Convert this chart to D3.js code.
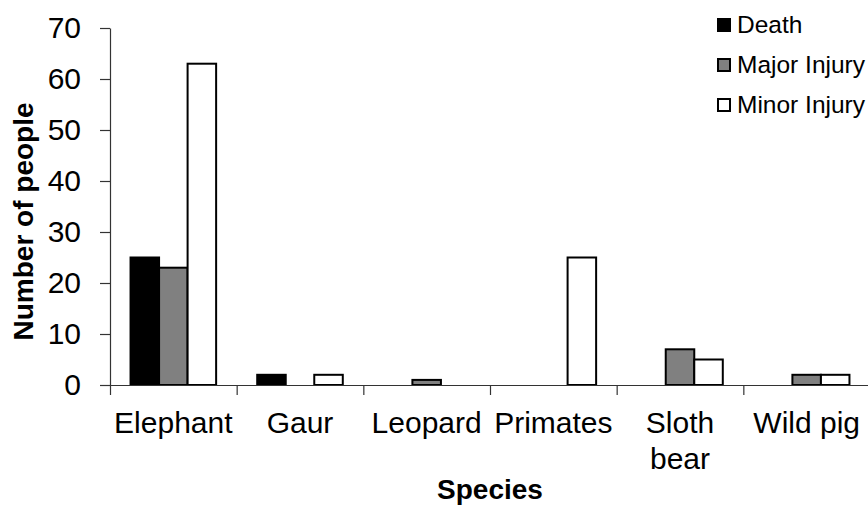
<!DOCTYPE html>
<html>
<head>
<meta charset="utf-8">
<script src="https://cdn.jsdelivr.net/npm/d3@7"></script>
<style>
  body { margin: 0; background: #fff; }
  text { font-family: "Liberation Sans", Arial, sans-serif; }
</style>
</head>
<body>
<div id="chart"></div>
<script>
// data
var species = ["Elephant", "Gaur", "Leopard", "Primates", "Sloth bear", "Wild pig"];
var seriesNames = ["Death", "Major Injury", "Minor Injury"];
var death = [25, 2, 0, 0, 0, 0];
var majorInjury = [23, 0, 1, 0, 7, 2];
var minorInjury = [63, 2, 0, 25, 5, 2];
var yTicks = [0, 10, 20, 30, 40, 50, 60, 70];
var seriesColors = ["#000000", "#808080", "#ffffff"];

var seriesValues = [death, majorInjury, minorInjury];

// set the dimensions of the graph
var width = 868, height = 510;
var plot = {left: 110, right: 870, top: 28, bottom: 385};

var svg = d3.select("#chart")
  .append("svg")
    .attr("width", width)
    .attr("height", height);

// scales
var x0 = d3.scaleBand()
  .domain(species)
  .range([plot.left, plot.right])
  .padding(0);

var x1 = d3.scaleBand()
  .domain(seriesNames)
  .range([0, x0.bandwidth()])
  .paddingInner(0)
  .paddingOuter(0.72);

var y = d3.scaleLinear()
  .domain([0, 70])
  .range([plot.bottom, plot.top]);

// bars
var rows = [];
species.forEach(function(s, i) {
  seriesNames.forEach(function(n, j) {
    if (seriesValues[j][i] > 0) {
      rows.push({species: s, series: n, color: seriesColors[j], value: seriesValues[j][i]});
    }
  });
});

svg.append("g")
  .selectAll("rect")
  .data(rows)
  .enter()
  .append("rect")
    .attr("x", function(d) { return x0(d.species) + x1(d.series); })
    .attr("y", function(d) { return y(d.value); })
    .attr("width", x1.bandwidth())
    .attr("height", function(d) { return y(0) - y(d.value); })
    .attr("fill", function(d) { return d.color; })
    .attr("stroke", "#000")
    .attr("stroke-width", 2);

// Y axis
var yAxis = svg.append("g")
  .attr("transform", "translate(" + plot.left + ",0)")
  .call(d3.axisLeft(y).tickValues(yTicks).tickSize(10).tickSizeOuter(0).tickPadding(19));
yAxis.selectAll("path, line").attr("stroke", "#333").attr("stroke-width", 1.2);
yAxis.selectAll("text").attr("fill", "#000").style("font-size", "30px")
  .style("font-family", "'Liberation Sans', Arial, sans-serif");

// X axis: labels centred on each category, ticks on the boundaries
var xAxis = svg.append("g")
  .attr("transform", "translate(0," + plot.bottom + ")")
  .call(d3.axisBottom(x0).tickSize(0).tickSizeOuter(0).tickPadding(27));
xAxis.select("path").attr("stroke", "#333").attr("stroke-width", 1.2);
xAxis.selectAll("text").attr("fill", "#000").style("font-size", "30px")
  .style("font-family", "'Liberation Sans', Arial, sans-serif")
  .call(wrap, x0.bandwidth());

var bounds = species.map(function(s) { return x0(s); }).concat([x0.range()[1]]);
xAxis.selectAll(".bound")
  .data(bounds)
  .enter()
  .append("line")
    .attr("class", "bound")
    .attr("x1", function(d) { return d + 0.5; })
    .attr("x2", function(d) { return d + 0.5; })
    .attr("y1", 0)
    .attr("y2", 10)
    .attr("stroke", "#333")
    .attr("stroke-width", 1.2);

// axis titles
svg.append("text")
  .attr("transform", "translate(33," + ((plot.top + plot.bottom) / 2 + 15) + ") rotate(-90)")
  .attr("text-anchor", "middle")
  .style("font-size", "28px")
  .style("font-weight", "bold")
  .text("Number of people");

svg.append("text")
  .attr("x", (plot.left + plot.right) / 2)
  .attr("y", 499)
  .attr("text-anchor", "middle")
  .style("font-size", "28px")
  .style("font-weight", "bold")
  .text("Species");

// legend
var legend = svg.append("g")
  .attr("transform", "translate(717,0)");

var item = legend.selectAll(".item")
  .data(seriesNames)
  .enter()
  .append("g")
    .attr("class", "item")
    .attr("transform", function(d, i) { return "translate(0," + (40 * i) + ")"; });

item.append("rect")
  .attr("x", 1)
  .attr("y", 19)
  .attr("width", 12)
  .attr("height", 12)
  .attr("fill", function(d, i) { return seriesColors[i]; })
  .attr("stroke", "#000")
  .attr("stroke-width", 2);

item.append("text")
  .attr("x", 20)
  .attr("y", 33)
  .style("font-size", "24.5px")
  .text(function(d) { return d; });

// wraps long tick labels onto several lines
function wrap(text, w) {
  text.each(function() {
    var t = d3.select(this),
        words = t.text().split(/\s+/).reverse(),
        word,
        line = [],
        lineNumber = 0,
        lineHeight = 1.2,
        yy = t.attr("y"),
        dy = parseFloat(t.attr("dy")),
        tspan = t.text(null).append("tspan").attr("x", 0).attr("y", yy).attr("dy", dy + "em");
    while (word = words.pop()) {
      line.push(word);
      tspan.text(line.join(" "));
      if (tspan.node().getComputedTextLength() > w && line.length > 1) {
        line.pop();
        tspan.text(line.join(" "));
        line = [word];
        tspan = t.append("tspan").attr("x", 0).attr("y", yy)
          .attr("dy", ++lineNumber * lineHeight + dy + "em").text(word);
      }
    }
  });
}
</script>
</body>
</html>
